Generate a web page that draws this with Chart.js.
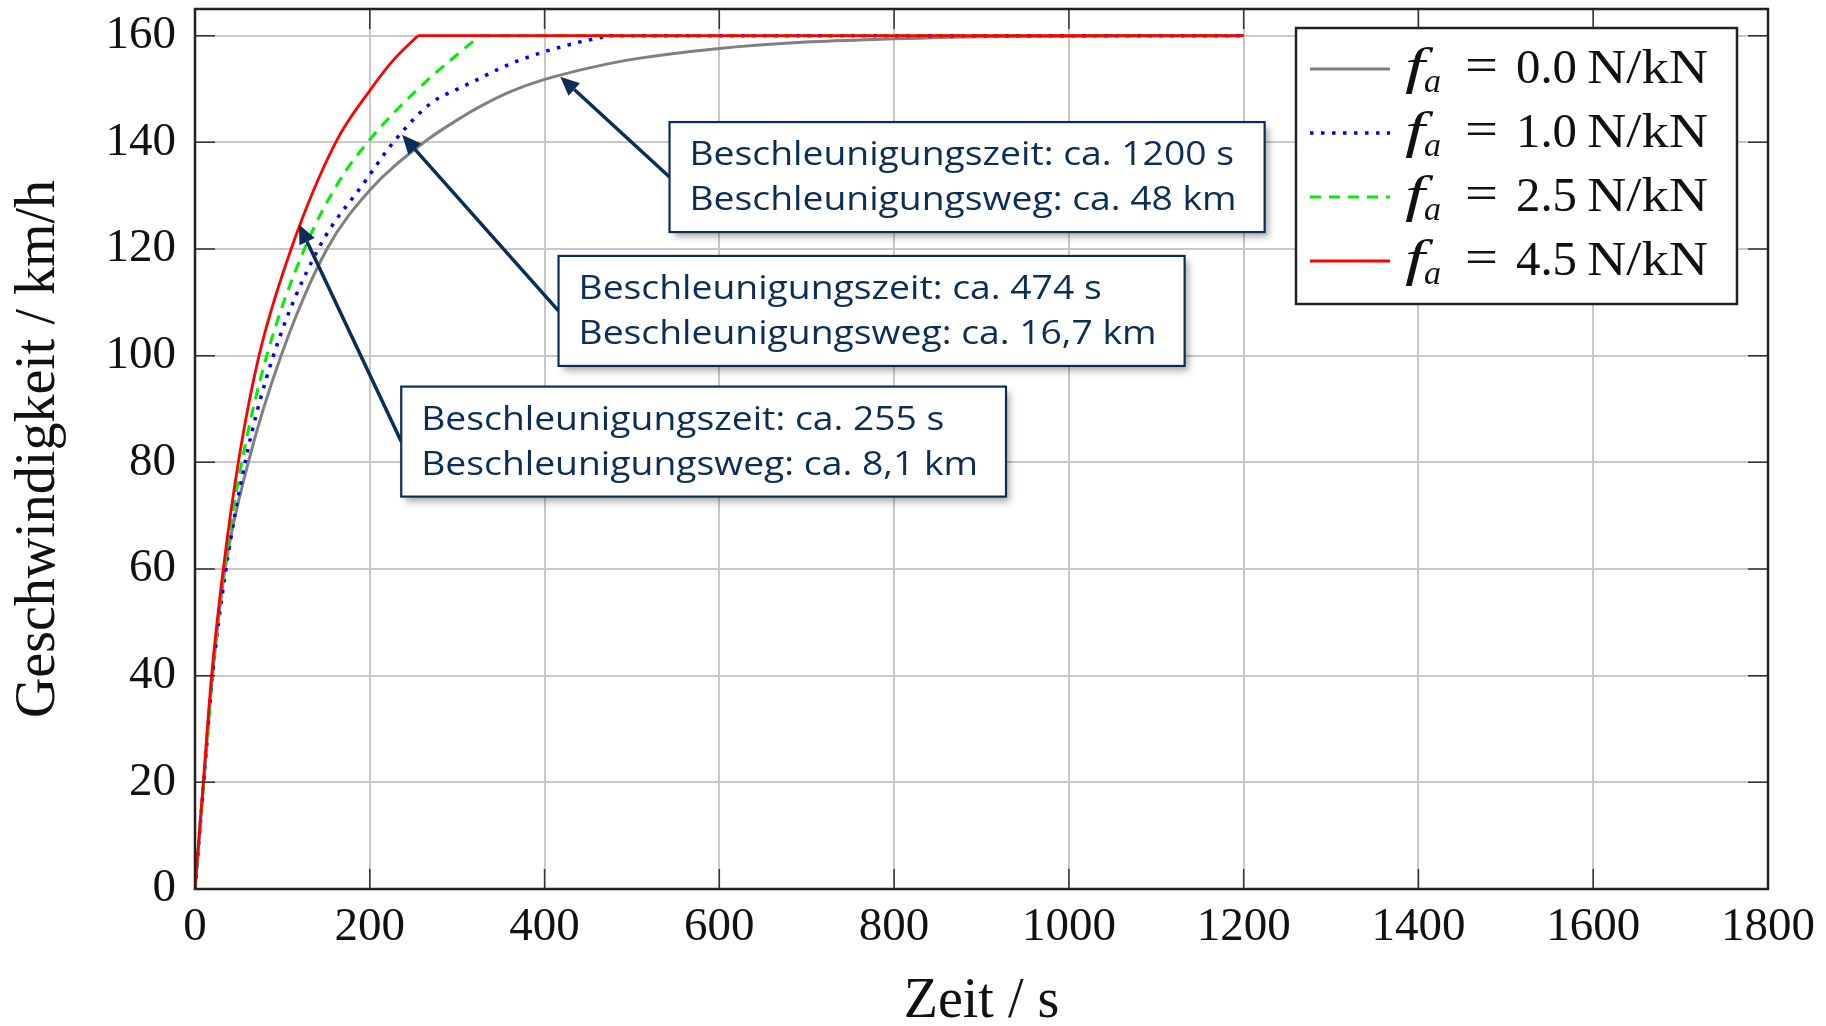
<!DOCTYPE html>
<html>
<head>
<meta charset="utf-8">
<script src="https://cdn.jsdelivr.net/npm/chart.js@4.4.1/dist/chart.umd.min.js"></script>
<style>
  html, body { margin: 0; padding: 0; background: #fff; }
  #wrap { width: 1826px; height: 1026px; position: relative; }
</style>
</head>
<body>
<div id="wrap"><canvas id="c"></canvas></div>
<script>
// speed over time for four values of f_a (s, km/h)
const tEnd = 1200
const fa = [0.0, 1.0, 2.5, 4.5]

const tGray = [0, 10, 20, 34.4, 61, 98.5, 151, 200, 262, 307, 326, 361, 400, 458, 502, 600, 699, 800, 896, 1000, 1100, 1200]
const vGray = [0, 20, 40, 60, 80, 100, 120, 131, 140, 144.9, 146.7, 149.5, 151.8, 154.2, 155.6, 157.6, 158.8, 159.4, 159.8, 159.9, 160, 160]

const tBlue = [0, 10, 20, 35.5, 57.3, 89.7, 141, 194.7, 227, 269, 307, 326, 345.5, 370, 400, 440, 474]
const vBlue = [0, 20, 40, 60, 80, 100, 120, 132.7, 140, 147.2, 150.5, 152, 153.6, 155.3, 157, 158.8, 160]

const tGreen = [0, 10, 20, 33.6, 53.5, 82.1, 125.2, 166, 200, 231, 269, 307, 326]
const vGreen = [0, 20, 40, 60, 80, 100, 120, 133, 140.5, 146.1, 152.1, 157.4, 160]

const tRed = [0, 9.5, 19, 32.4, 49.6, 73.3, 110, 161, 200, 227, 255]
const vRed = [0, 20, 40, 60, 80, 100, 120, 140, 149.7, 155.4, 160]

const noteLines = [
  ['Beschleunigungszeit: ca. 1200 s', 'Beschleunigungsweg: ca. 48 km'],
  ['Beschleunigungszeit: ca. 474 s', 'Beschleunigungsweg: ca. 16,7 km'],
  ['Beschleunigungszeit: ca. 255 s', 'Beschleunigungsweg: ca. 8,1 km'],
]
// arrow tip on the curve and top-left corner of each box, in axis units
const noteTip = [[418, 152.3], [237, 141.4], [119, 124.6]]
const noteBox = [[543, 143.8], [416, 118.7], [236, 94.2]]

const navy = '#0c2d57'
const serif = '"Liberation Serif", "DejaVu Serif", serif'

const series = [
  {t: tGray, v: vGray, color: '#808080', dash: [], width: 3},
  {t: tBlue, v: vBlue, color: '#0000ff', dash: [3.5, 7.5], width: 3.5},
  {t: tGreen, v: vGreen, color: '#00ee00', dash: [11, 8], width: 3},
  {t: tRed, v: vRed, color: '#ff0000', dash: [], width: 2.8},
]

let datasets = []
series.forEach((s, i) => {
  let pts = s.t.map((t, j) => ({x: t, y: s.v[j]}))
  let common = {
    borderColor: s.color, borderWidth: s.width, borderDash: s.dash,
    pointRadius: 0, fill: false, order: series.length - i
  }
  datasets.push({...common, label: 'fa ' + fa[i], data: pts, cubicInterpolationMode: 'monotone'})
  // once at top speed the curve stays flat up to tEnd
  let last = pts[pts.length - 1]
  if (last.x < tEnd) datasets.push({...common, data: [last, {x: tEnd, y: last.y}]})
})

// draw text squeezed/stretched horizontally by factor k
function wideText(ctx, txt, x, y, k) {
  ctx.save()
  ctx.translate(x, y)
  ctx.scale(k, 1)
  ctx.fillText(txt, 0, 0)
  ctx.restore()
}
function stretchText(ctx, txt, x, y, w) {
  wideText(ctx, txt, x, y, w / ctx.measureText(txt).width)
}

const framePlugin = {
  id: 'frame',
  afterDatasetsDraw(chart) {
    let {ctx, chartArea: a, scales: {x, y}} = chart
    ctx.save()
    ctx.strokeStyle = '#333'
    ctx.lineWidth = 1.5
    ctx.beginPath()
    x.ticks.forEach(t => {
      let px = x.getPixelForValue(t.value)
      ctx.moveTo(px, a.bottom); ctx.lineTo(px, a.bottom - 20)
      ctx.moveTo(px, a.top); ctx.lineTo(px, a.top + 20)
    })
    y.ticks.forEach(t => {
      let py = y.getPixelForValue(t.value)
      ctx.moveTo(a.left, py); ctx.lineTo(a.left + 20, py)
      ctx.moveTo(a.right, py); ctx.lineTo(a.right - 20, py)
    })
    ctx.stroke()
    ctx.strokeStyle = '#222'
    ctx.lineWidth = 2.5
    ctx.strokeRect(a.left, a.top, a.right - a.left, a.bottom - a.top)
    ctx.restore()
  }
}

const notesPlugin = {
  id: 'notes',
  afterDraw(chart) {
    let {ctx, scales: {x, y}} = chart
    let k = 1.13
    ctx.save()
    ctx.font = '33px "Open Sans", "Noto Sans", sans-serif'
    noteLines.forEach((lines, i) => {
      let bx = x.getPixelForValue(noteBox[i][0]), by = y.getPixelForValue(noteBox[i][1])
      let w = Math.max(...lines.map(l => ctx.measureText(l).width)) * k + 48
      let h = 110
      let tx = x.getPixelForValue(noteTip[i][0]), ty = y.getPixelForValue(noteTip[i][1])
      let sx = bx, sy = by + h / 2
      let ang = Math.atan2(ty - sy, tx - sx)
      let hl = 19, hw = 8.5
      let ex = tx - Math.cos(ang) * hl, ey = ty - Math.sin(ang) * hl
      // arrow
      ctx.strokeStyle = navy
      ctx.fillStyle = navy
      ctx.lineWidth = 3.5
      ctx.beginPath(); ctx.moveTo(sx, sy); ctx.lineTo(ex, ey); ctx.stroke()
      ctx.beginPath()
      ctx.moveTo(tx, ty)
      ctx.lineTo(ex + Math.sin(ang) * hw, ey - Math.cos(ang) * hw)
      ctx.lineTo(ex - Math.sin(ang) * hw, ey + Math.cos(ang) * hw)
      ctx.closePath(); ctx.fill()
      // box
      ctx.save()
      ctx.shadowColor = 'rgba(0,0,0,0.35)'
      ctx.shadowBlur = 7
      ctx.shadowOffsetX = 4
      ctx.shadowOffsetY = 5
      ctx.fillStyle = '#fff'
      ctx.fillRect(bx, by, w, h)
      ctx.restore()
      ctx.lineWidth = 2.2
      ctx.strokeRect(bx, by, w, h)
      ctx.fillStyle = navy
      ctx.textBaseline = 'alphabetic'
      wideText(ctx, lines[0], bx + 20, by + 43, k)
      wideText(ctx, lines[1], bx + 20, by + 88, k)
    })
    ctx.restore()
  }
}

const legendPlugin = {
  id: 'faLegend',
  afterDraw(chart) {
    let {ctx, chartArea: a} = chart
    let lw = 441, lh = 276
    let lx = a.right - 31 - lw, ly = a.top + 19
    ctx.save()
    ctx.fillStyle = '#fff'
    ctx.fillRect(lx, ly, lw, lh)
    ctx.strokeStyle = '#222'
    ctx.lineWidth = 2.5
    ctx.strokeRect(lx, ly, lw, lh)
    series.forEach((s, i) => {
      let ry = ly + 41 + i * 64
      ctx.strokeStyle = s.color
      ctx.lineWidth = s.width
      ctx.setLineDash(s.dash)
      ctx.beginPath(); ctx.moveTo(lx + 14, ry); ctx.lineTo(lx + 94, ry); ctx.stroke()
      ctx.setLineDash([])
      let tx = lx + 107, by = ry + 14
      ctx.fillStyle = '#111'
      ctx.textBaseline = 'alphabetic'
      ctx.font = 'italic 50px ' + serif
      stretchText(ctx, 'f', tx + 2, by, 20)
      ctx.font = 'italic 34px ' + serif
      ctx.fillText('a', tx + 21, by + 9)
      ctx.font = '48px ' + serif
      stretchText(ctx, '=', tx + 62, by - 2, 33)
      stretchText(ctx, fa[i].toFixed(1), tx + 113, by, 61)
      stretchText(ctx, 'N/kN', tx + 184, by, 121)
    })
    ctx.restore()
  }
}

new Chart(document.getElementById('c'), {
  type: 'line',
  data: {datasets: datasets},
  plugins: [framePlugin, notesPlugin, legendPlugin],
  options: {
    responsive: true,
    maintainAspectRatio: false,
    animation: false,
    devicePixelRatio: 1,
    layout: {padding: {left: 0, top: 9, right: 58, bottom: 0}},
    plugins: {legend: {display: false}, tooltip: {enabled: false}},
    scales: {
      x: {
        type: 'linear', min: 0, max: 1800,
        ticks: {stepSize: 200, autoSkip: false, maxRotation: 0, color: '#111', padding: 10,
                font: {family: serif, size: 47}, callback: v => String(v)},
        grid: {color: '#c8c8c8', lineWidth: 2, drawTicks: false},
        border: {display: false},
        title: {display: true, text: 'Zeit / s', color: '#111',
                font: {family: serif, size: 56, lineHeight: 1}, padding: {top: 0, bottom: -4}},
        afterFit: s => { s.height = 137; s.paddingLeft = 0; s.paddingRight = 0 }
      },
      y: {
        type: 'linear', min: 0, max: 165,
        ticks: {stepSize: 20, includeBounds: false, color: '#111', padding: 19,
                font: {family: serif, size: 47}, callback: v => String(v)},
        grid: {color: '#c8c8c8', lineWidth: 2, drawTicks: false},
        border: {display: false},
        title: {display: true, text: 'Geschwindigkeit / km/h', color: '#111',
                font: {family: serif, size: 56, lineHeight: 1}, padding: {top: 11, bottom: 0}},
        afterFit: s => { s.width = 195; s.paddingTop = 0; s.paddingBottom = 0 }
      }
    }
  }
})
</script>
</body>
</html>
